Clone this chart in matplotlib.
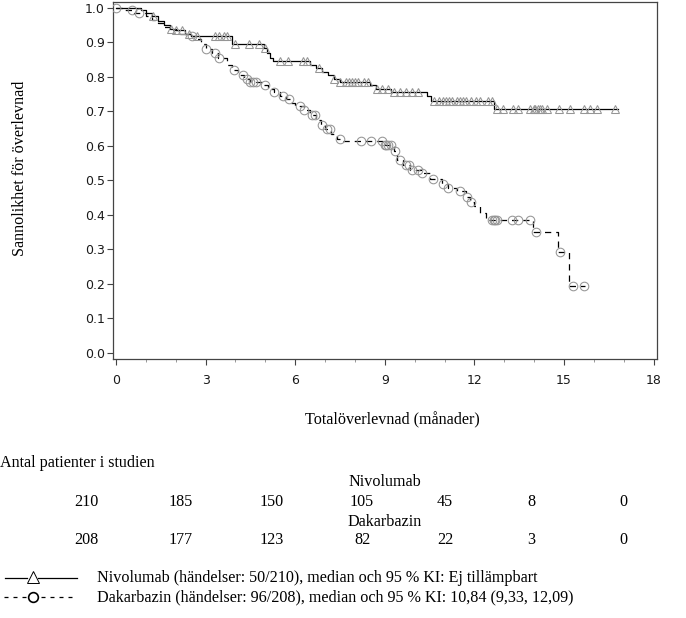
import numpy as np
import matplotlib
matplotlib.use("Agg")
import matplotlib.pyplot as plt
from matplotlib.lines import Line2D

# Kaplan-Meier-steg (tid i månader, överlevnad efter steget)
nivo_t = [0, 0.85, 1.0, 1.2, 1.4, 1.6, 1.8, 2.0, 2.3, 2.5, 3.9, 4.95, 5.05, 5.15, 5.25,
          6.5, 6.7, 6.9, 7.1, 7.3, 7.5, 8.5, 8.7, 9.2, 10.4, 10.55, 12.65]
nivo_s = [1.0, 0.995, 0.985, 0.975, 0.962, 0.95, 0.94, 0.935, 0.925, 0.918, 0.895, 0.885,
          0.87, 0.855, 0.845, 0.835, 0.825, 0.814, 0.805, 0.795, 0.785, 0.775, 0.765,
          0.755, 0.745, 0.73, 0.706]
nivo_end = 16.8
nivo_cens = [1.25, 1.85, 2.0, 2.2, 2.45, 2.7, 3.3, 3.45, 3.6, 3.7, 4.0, 4.45, 4.8, 5.0,
             5.5, 5.75, 6.25, 6.4, 6.8, 7.3, 7.5, 7.7, 7.8, 7.9, 8.0, 8.1, 8.3, 8.45,
             8.75, 8.9, 9.1, 9.3, 9.5, 9.7, 9.9, 10.1, 10.65, 10.8, 10.95, 11.05, 11.15,
             11.25, 11.4, 11.5, 11.6, 11.7, 11.9, 12.05, 12.2, 12.45, 12.6, 12.75, 12.97,
             13.3, 13.47, 13.87, 14.0, 14.04, 14.14, 14.2, 14.26, 14.43, 14.82, 15.2,
             15.65, 15.88, 16.1, 16.72]

daka_t = [0, 0.3, 0.6, 1.0, 1.2, 1.4, 1.6, 1.8, 2.1, 2.5, 2.7, 2.85, 3.0, 3.2, 3.4, 3.7,
          3.9, 4.1, 4.3, 4.5, 4.9, 5.1, 5.3, 5.5, 5.7, 5.85, 6.0, 6.3, 6.5, 6.7, 6.85,
          7.0, 7.2, 7.4, 7.6, 9.0, 9.3, 9.4, 9.6, 9.85, 10.2, 10.5, 10.9, 11.1, 11.4,
          11.7, 11.85, 12.0, 12.2, 12.4, 13.95, 14.8, 15.15]
daka_s = [1.0, 0.995, 0.985, 0.975, 0.965, 0.955, 0.945, 0.935, 0.925, 0.918, 0.91,
          0.895, 0.88, 0.87, 0.855, 0.835, 0.82, 0.805, 0.795, 0.785, 0.775, 0.765,
          0.755, 0.745, 0.735, 0.725, 0.715, 0.705, 0.69, 0.675, 0.66, 0.65, 0.635,
          0.62, 0.613, 0.603, 0.585, 0.56, 0.545, 0.53, 0.52, 0.505, 0.49, 0.478,
          0.468, 0.452, 0.438, 0.425, 0.405, 0.385, 0.35, 0.293, 0.195]
daka_end = 15.7
daka_cens = [0.0, 0.55, 0.78, 2.55, 3.0, 3.3, 3.45, 3.96, 4.25, 4.4, 4.5, 4.6, 4.7, 5.0,
             5.3, 5.6, 5.8, 6.15, 6.3, 6.55, 6.65, 6.9, 7.05, 7.15, 7.5, 8.2, 8.55, 8.9,
             9.0, 9.05, 9.1, 9.2, 9.35, 9.5, 9.7, 9.8, 9.9, 10.1, 10.25, 10.6, 10.95,
             11.1, 11.5, 11.75, 11.9, 12.6, 12.65, 12.7, 12.75, 13.25, 13.47, 13.85,
             14.05, 14.85, 15.3, 15.65]

xticks = [0, 3, 6, 9, 12, 15, 18]
yticks = [0.0, 0.1, 0.2, 0.3, 0.4, 0.5, 0.6, 0.7, 0.8, 0.9, 1.0]

risk_nivo = ["210", "185", "150", "105", "45", "8", "0"]
risk_daka = ["208", "177", "123", "82", "22", "3", "0"]
risk_cols_px = [86, 181, 272, 362, 445, 531, 623]

legend_nivo = "Nivolumab (händelser: 50/210), median och 95 % KI: Ej tillämpbart"
legend_daka = "Dakarbazin (händelser: 96/208), median och 95 % KI: 10,84 (9,33, 12,09)"

W, H = 686, 618
SERIF = "Liberation Serif"
FS = 11.6


def surv_at(times, surv, t):
    i = np.searchsorted(times, t, side="right") - 1
    return np.asarray(surv)[i]


def km_curve(ax, times, surv, end, cens, ls, marker, ms):
    tt = list(times) + [end]
    ss = list(surv) + [surv[-1]]
    ax.step(tt, ss, where="post", color="black", lw=0.9, ls=ls, zorder=3)
    ax.plot(cens, surv_at(times, surv, cens), ls="none", marker=marker, ms=ms,
            mfc="none", mec="#959595", mew=0.75, zorder=4)


fig = plt.figure(figsize=(W / 100, H / 100), dpi=100)
ax = fig.add_axes([113.3 / W, 1 - 359 / H, (657 - 113.3) / W, (359 - 2) / H])

km_curve(ax, nivo_t, nivo_s, nivo_end, nivo_cens, "-", "^", 5.8)
km_curve(ax, daka_t, daka_s, daka_end, daka_cens, (0, (5, 4)), "o", 6.2)

ax.set_xlim(-0.09, 18.11)
ax.set_ylim(-0.018, 1.017)
ax.set_xticks(xticks)
ax.set_xticks(np.arange(0, 19, 1), minor=True)
ax.set_yticks(yticks)
ax.set_yticklabels([f"{v:.1f}" for v in yticks])
ax.tick_params(axis="both", which="major", length=4, width=0.8, labelsize=9,
               color="#444444", labelcolor="#1a1a1a")
ax.tick_params(axis="x", which="minor", length=2.5, width=0.6, color="#888888")
ax.tick_params(axis="x", pad=7)
ax.tick_params(axis="y", pad=2)
for sp in ax.spines.values():
    sp.set_color("#444444")
    sp.set_linewidth(0.9)

# axeltitlar
fig.text(20 / W, 1 - 168 / H, "Sannolikhet för överlevnad", rotation=90,
         ha="center", va="center", family=SERIF, fontsize=FS)
fig.text(392 / W, 1 - 420 / H, "Totalöverlevnad (månader)", ha="center",
         va="center", family=SERIF, fontsize=FS)

# antal patienter i studien
fig.text(0, 1 - 463 / H, "Antal patienter i studien", ha="left", va="center",
         family=SERIF, fontsize=FS)
fig.text(385 / W, 1 - 482 / H, "Nivolumab", ha="center", va="center",
         family=SERIF, fontsize=FS)
fig.text(385 / W, 1 - 522 / H, "Dakarbazin", ha="center", va="center",
         family=SERIF, fontsize=FS)
for x, a, b in zip(risk_cols_px, risk_nivo, risk_daka):
    fig.text(x / W, 1 - 502 / H, a, ha="center", va="center", family=SERIF, fontsize=FS)
    fig.text(x / W, 1 - 540 / H, b, ha="center", va="center", family=SERIF, fontsize=FS)

# förklaring
y1, y2 = 1 - 578 / H, 1 - 597 / H
fig.add_artist(Line2D([5 / W, 27 / W], [y1, y1], color="black", lw=0.9))
fig.add_artist(Line2D([38 / W, 77 / W], [y1, y1], color="black", lw=0.9))
fig.add_artist(Line2D([32.5 / W], [y1 + 1 / H], marker="^", ms=8, mfc="none",
                      mec="black", mew=0.7, ls="none"))
fig.add_artist(Line2D([4 / W, 26 / W], [y2, y2], color="black", lw=0.9, ls=(0, (3.2, 4))))
fig.add_artist(Line2D([41 / W, 77 / W], [y2, y2], color="black", lw=0.9, ls=(0, (3.2, 4))))
fig.add_artist(Line2D([33 / W], [y2], marker="o", ms=7, mfc="none",
                      mec="black", mew=1.2, ls="none"))
fig.text(97 / W, y1, legend_nivo, ha="left", va="center", family=SERIF, fontsize=FS)
fig.text(97 / W, y2, legend_daka, ha="left", va="center", family=SERIF, fontsize=FS)

fig.savefig("out.png", dpi=100)
